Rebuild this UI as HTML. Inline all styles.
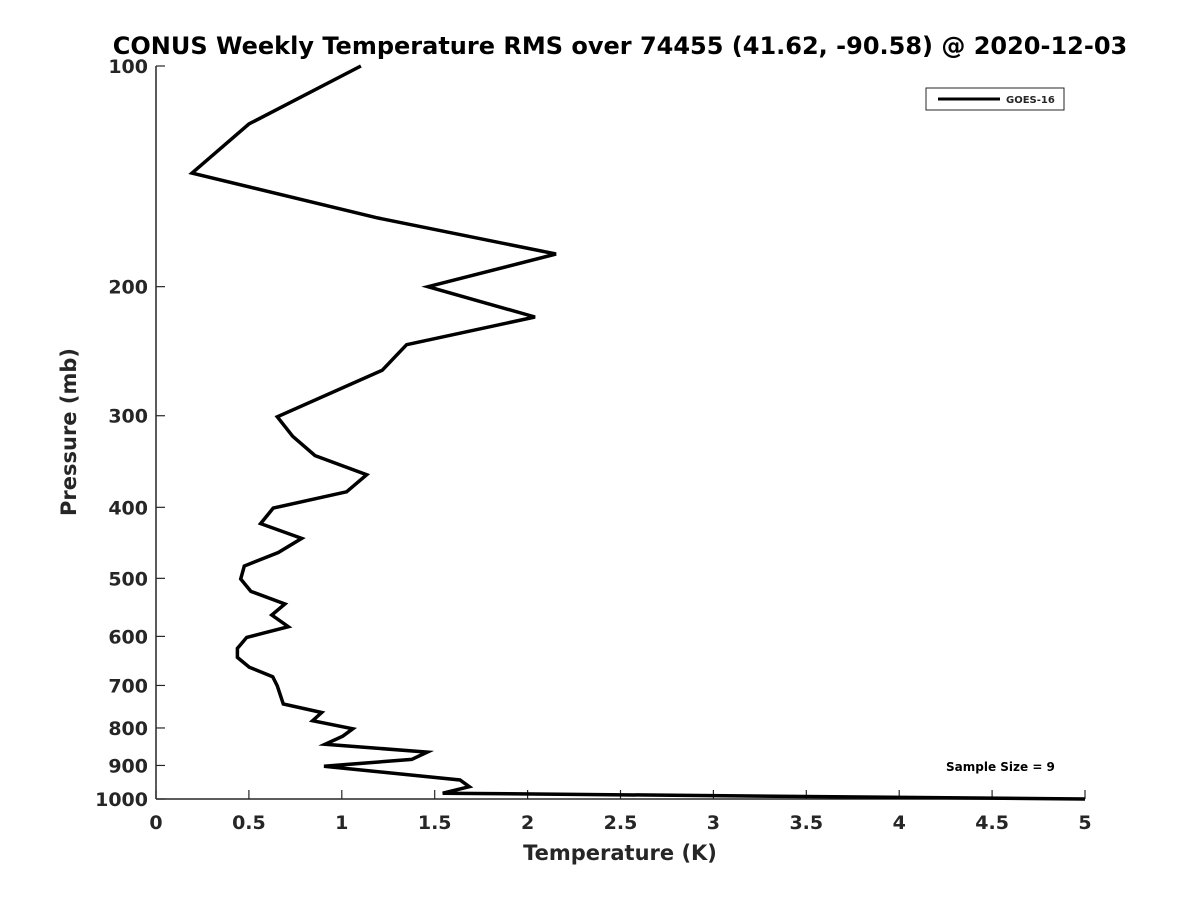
<!DOCTYPE html>
<html><head><meta charset="utf-8"><style>body{margin:0;background:#fff}svg{display:block}text{font-family:"DejaVu Sans","Liberation Sans",sans-serif;font-weight:bold;fill:#262626}</style></head>
<body>
<svg id="chart" width="1200" height="900" viewBox="0 0 1200 900" xmlns="http://www.w3.org/2000/svg">
<text x="620" y="54" text-anchor="middle" font-size="24" style="fill:#000">CONUS Weekly Temperature RMS over 74455 (41.62, -90.58) @ 2020-12-03</text>
<g id="axes"></g>
<path id="series" fill="none" stroke="#000" stroke-width="3.5" stroke-linejoin="miter"/>
<g>
<rect x="926" y="88" width="138" height="22" fill="#fff" stroke="#262626" stroke-width="1"/>
<line x1="938" y1="99" x2="1000" y2="99" stroke="#000" stroke-width="3"/>
<text x="1006" y="103" font-size="10">GOES-16</text>
</g>
<text x="946" y="771" font-size="12" style="fill:#000">Sample Size = 9</text>
<text x="620" y="860" text-anchor="middle" font-size="21">Temperature (K)</text>
<text transform="translate(76,432) rotate(-90)" text-anchor="middle" font-size="21">Pressure (mb)</text>
</svg>
<script>
const temps=[1.103,0.50,0.194,1.184,2.153,1.464,2.040,1.349,1.218,0.653,0.736,0.856,1.134,1.026,0.631,0.563,0.784,0.658,0.475,0.456,0.511,0.694,0.623,0.712,0.488,0.438,0.438,0.502,0.628,0.653,0.685,0.892,0.843,1.059,1.005,0.910,1.460,1.376,0.904,1.636,1.686,1.543,5.0];
const pressures=[100,120,140,161,180.5,200,220,240,260,301,320,340,361,381,401,421,441,461,481,501,521,542,561,582,602,623,641,661,681,701,742,762,782,802,821,842,863,883,902,942,962,982,1000];
const xTicks=[0,0.5,1,1.5,2,2.5,3,3.5,4,4.5,5];
const xTickLabels=["0","0.5","1","1.5","2","2.5","3","3.5","4","4.5","5"];
const yTicks=[100,200,300,400,500,600,700,800,900,1000];
const L=156,R=1085,T=66,B=799;
const xs=v=>L+(v-0)/(5-0)*(R-L);
const ys=p=>T+(Math.log10(p)-2)/(3-2)*(B-T);
const NS="http://www.w3.org/2000/svg";
const ax=document.getElementById('axes');
function mk(tag,attrs){const e=document.createElementNS(NS,tag);for(const k in attrs)e.setAttribute(k,attrs[k]);return e;}
let e=mk('line',{x1:L,y1:T,x2:L,y2:B,stroke:'#262626','stroke-width':1.5});


ax.appendChild(e);
e=mk('line',{x1:L,y1:B,x2:R,y2:B,stroke:'#262626','stroke-width':1.5});


ax.appendChild(e);
xTicks.forEach((v,i)=>{
 const x=xs(v);
 let t=mk('line',{x1:x,y1:B,x2:x,y2:B-9,stroke:'#262626','stroke-width':1.2});
 
 
 ax.appendChild(t);
 let l=mk('text',{x:x,y:B+30,'text-anchor':'middle','font-size':19});
 
 
 l.textContent=xTickLabels[i];ax.appendChild(l);
});
yTicks.forEach(p=>{
 const y=ys(p);
 let t=mk('line',{x1:L,y1:y,x2:L+9,y2:y,stroke:'#262626','stroke-width':1.2});
 
 
 ax.appendChild(t);
 let l=mk('text',{x:L-8,y:y+7,'text-anchor':'end','font-size':19});
 
 
 l.textContent=String(p);ax.appendChild(l);
});
document.getElementById('series').setAttribute('d',temps.map((v,i)=>(i?'L':'M')+xs(v).toFixed(1)+','+ys(pressures[i]).toFixed(1)).join(''));
</script>
</body></html>
